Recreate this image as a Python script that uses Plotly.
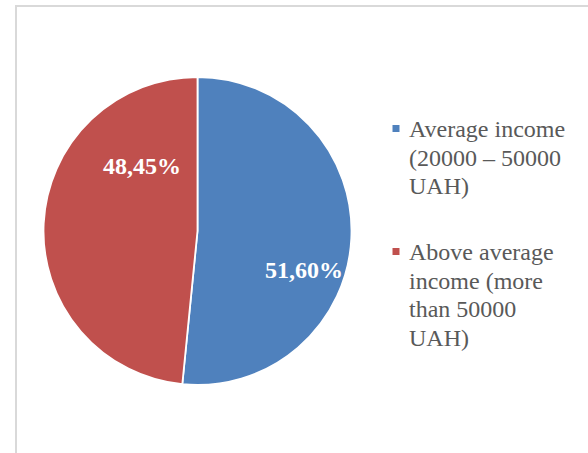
import textwrap
import plotly.graph_objects as go

# Income groups and their shares (%)
categories = [
    "Average income (20000 – 50000 UAH)",
    "Above average income (more than 50000 UAH)",
]
shares = [51.60, 48.45]
colors = ["#4F81BD", "#C0504D"]

W, H = 588, 453
FONT = "Liberation Serif"


def px(x):
    return x / W


def py(y):
    return 1 - y / H


fig = go.Figure(
    go.Pie(
        labels=categories,
        values=shares,
        sort=False,
        direction="clockwise",
        rotation=0,
        marker=dict(colors=colors, line=dict(color="white", width=1.8)),
        textinfo="none",
        hoverinfo="label+value",
        domain=dict(x=[px(43.5), px(351.5)], y=[py(385), py(77)]),
        showlegend=False,
    )
)

annotations = []

# Percentage labels on the slices
label_pos = [(304, 270), (142, 166)]
for v, (lx, ly) in zip(shares, label_pos):
    annotations.append(dict(
        x=px(lx), y=py(ly), xref="paper", yref="paper",
        text="<b>" + f"{v:.2f}".replace(".", ",") + "%</b>",
        showarrow=False, xanchor="center", yanchor="middle",
        font=dict(family=FONT, size=24, color="white"),
    ))

# Legend: colour square + wrapped label lines
shapes = []
legend_tops = [137, 260]
line_gap = 28.5
for name, col, base in zip(categories, colors, legend_tops):
    sq_top = base - 12
    shapes.append(dict(
        type="rect", xref="paper", yref="paper",
        x0=px(392.5), x1=px(399.5), y0=py(sq_top + 7), y1=py(sq_top),
        fillcolor=col, line=dict(width=0),
    ))
    for i, line in enumerate(textwrap.wrap(name, 14)):
        annotations.append(dict(
            x=px(407), y=py(base + i * line_gap - 8), xref="paper", yref="paper",
            text=line, showarrow=False, xanchor="left", yanchor="middle",
            font=dict(family=FONT, size=24, color="#595959"),
        ))

# Chart area border
shapes.append(dict(
    type="rect", xref="paper", yref="paper",
    x0=px(16), x1=1.2, y0=-0.2, y1=py(6),
    line=dict(color="#D9D9D9", width=2), fillcolor="rgba(0,0,0,0)",
))

fig.update_layout(
    width=W, height=H,
    margin=dict(l=0, r=0, t=0, b=0),
    paper_bgcolor="white",
    plot_bgcolor="white",
    annotations=annotations,
    shapes=shapes,
)

fig.write_html("out.html")
